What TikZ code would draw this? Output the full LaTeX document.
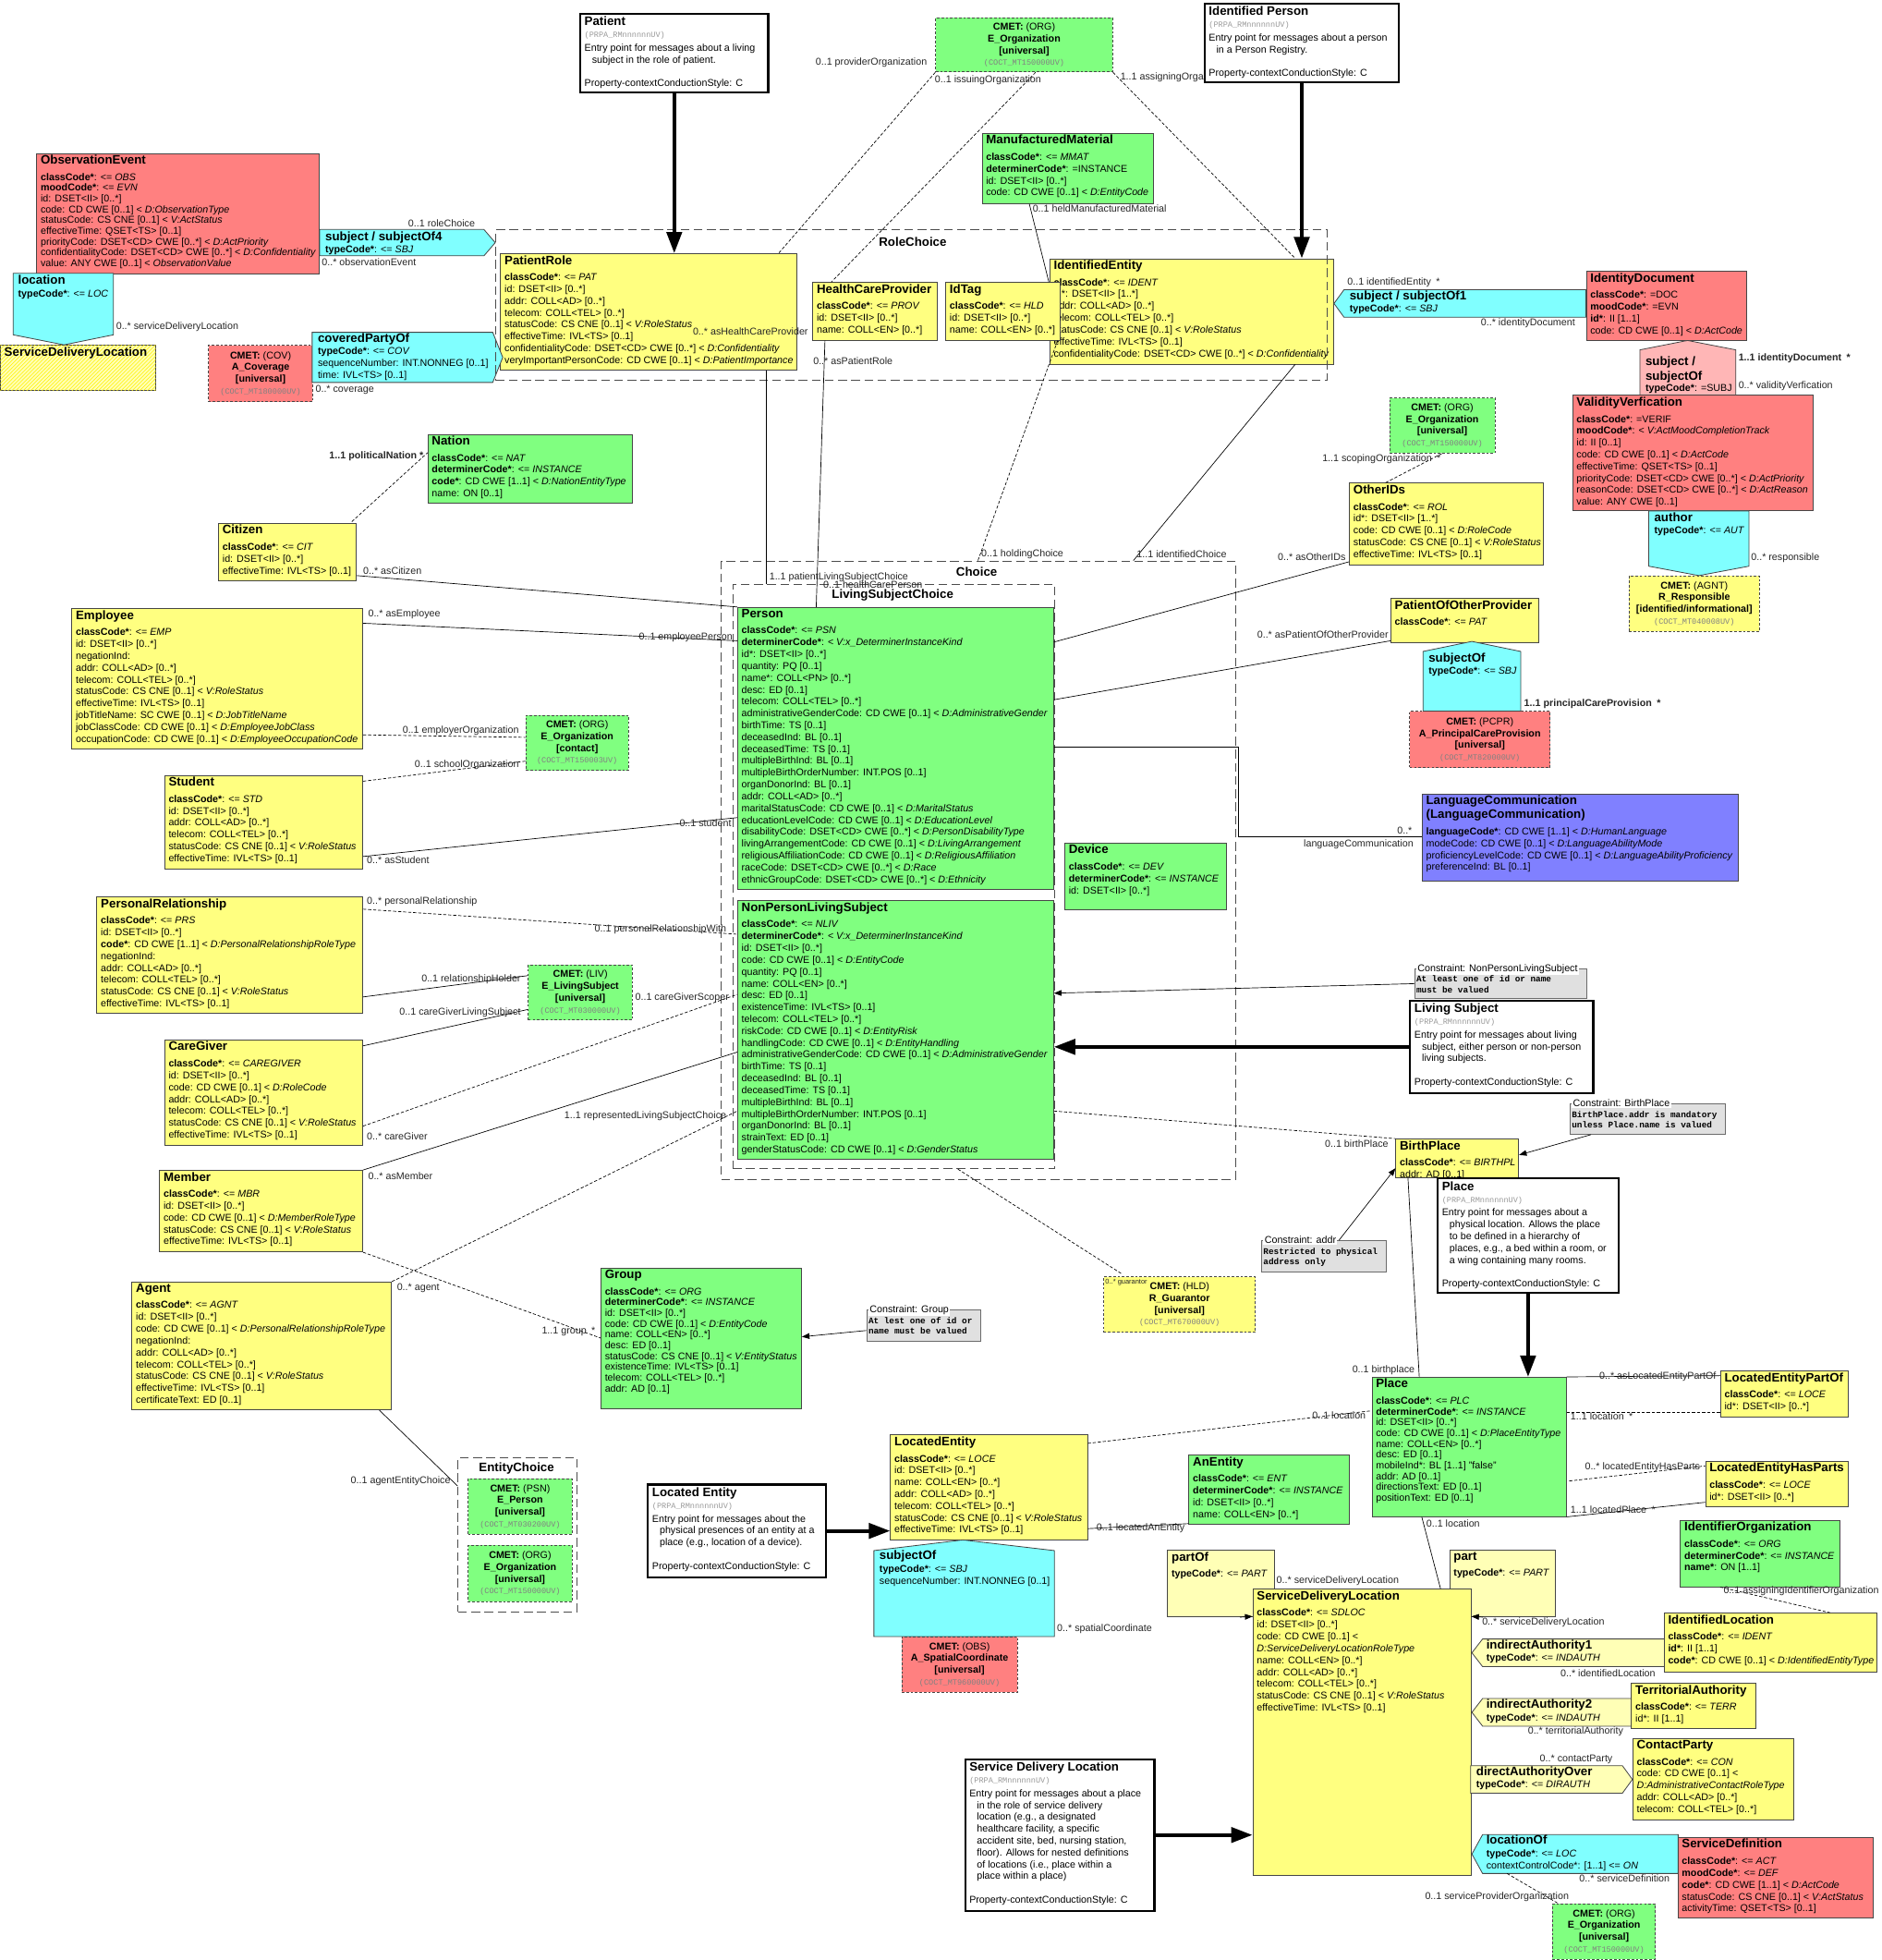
\documentclass[tikz,border=0pt]{standalone}
\usepackage{fontspec}
\setmainfont{Liberation Sans}
\setmonofont{Liberation Mono}
\usepackage{tikz}
\usetikzlibrary{calc,arrows.meta,patterns}
\definecolor{rimyellow}{RGB}{255,255,128}
\definecolor{rimgreen}{RGB}{128,255,128}
\definecolor{rimred}{RGB}{255,128,128}
\definecolor{rimcyan}{RGB}{128,255,255}
\definecolor{rimblue}{RGB}{128,128,255}
\definecolor{rimpink}{RGB}{255,182,182}
\definecolor{rimpale}{RGB}{255,255,182}
\definecolor{rimgrey}{RGB}{224,224,224}
\definecolor{rimline}{RGB}{70,70,70}

\newcommand{\pitch}{9.45pt}
\newcommand{\boxtitle}[1]{{\fontsize{9.8}{9.8}\selectfont\bfseries #1}}
\newcommand{\cmetid}[1]{{\fontsize{6.3}{7}\selectfont\ttfamily\color{black!50}#1}}
\newcommand{\noteid}{{\fontsize{6.3}{7}\selectfont\ttfamily\color{black!40}(PRPA\_RMnnnnnnUV)}}
% class box: name, fill, corner, width, height, title, attributes
\newcommand{\classbox}[7]{%
  \node[class box,#2,minimum width=#4pt,minimum height=#5pt] (#1) at (#3) {};
  \node[class text] (#1-t) at (#1.north west) {\boxtitle{#6}\\[\dimexpr13pt-\pitch\relax]#7};}
% cmet box: name, fill, corner, width, height, text
\newcommand{\cmetbox}[6]{%
  \node[cmet box,#2,minimum width=#4pt,minimum height=#5pt] (#1) at (#3) {#6};}
% constraint: name, corner, width, height, label, text
\newcommand{\constraintbox}[6]{%
  \node[constraint box,minimum width=#3pt,minimum height=#4pt] (#1) at (#2) {};
  \node[constraint label] (#1-l) at ($(#1.north west)+(1.5,2.5)$) {#5};
  \node[constraint text] (#1-t) at ($(#1.north west)+(0,5)$) {#6};}
% entry point note: name, corner, width, height, title, text
\newcommand{\notebox}[6]{%
  \node[note box,minimum width=#3pt,minimum height=#4pt] (#1) at (#2) {};
  \node[note text] (#1-t) at (#1.north west) {\boxtitle{#5}\\\noteid\\[1.5pt]#6};}

\begin{document}
\begin{tikzpicture}[x=1pt,y=-1pt]
\tikzstyle{class box}=[draw=rimline,line width=0.6pt,anchor=north west,inner sep=0pt]
\tikzstyle{class text}=[anchor=north west,align=left,inner xsep=3.3pt,inner ysep=1.5pt,font=\fontsize{7.9}{\pitch}\selectfont]
\tikzstyle{cmet box}=[draw=rimline,line width=0.7pt,dash pattern=on 2pt off 1.5pt,anchor=north west,align=center,inner sep=1pt,font=\fontsize{7.9}{9.4}\selectfont]
\tikzstyle{note box}=[draw=black,line width=1.6pt,fill=white,anchor=north west,inner sep=0pt]
\tikzstyle{note text}=[anchor=north west,align=left,inner xsep=4pt,inner ysep=3pt,font=\fontsize{7.9}{9.45}\selectfont]
\tikzstyle{constraint box}=[draw=rimline!80,line width=0.8pt,fill=rimgrey,anchor=north west,inner sep=0pt]
\tikzstyle{constraint label}=[anchor=base west,fill=white,inner sep=1pt,font=\fontsize{7.9}{9}\selectfont]
\tikzstyle{constraint text}=[anchor=north west,align=left,inner xsep=1.5pt,inner ysep=1pt,font=\fontsize{6.9}{8.3}\selectfont\ttfamily\bfseries]
\tikzstyle{container}=[draw=black!70,line width=0.8pt,dash pattern=on 7pt off 3.5pt,anchor=north west,inner sep=0pt]
\tikzstyle{container title}=[font=\fontsize{9.8}{10}\selectfont\bfseries,inner sep=0.5pt]
\tikzstyle{assoc}=[draw=rimline,line width=0.6pt]
\tikzstyle{rel}=[line width=0.5pt]
\tikzstyle{rel dashed}=[line width=0.5pt,dash pattern=on 2.5pt off 1.5pt]
\tikzstyle{entry arrow}=[line width=3pt,-{Triangle[length=17pt,width=12pt]}]
\tikzstyle{small arrow}=[line width=0.5pt,-{Triangle[length=6pt,width=4.5pt]}]
\tikzstyle{mult}=[font=\fontsize{7.9}{9}\selectfont,inner sep=0.5pt,text=black!85]

\fill[white] (0,0) rectangle (1500.4,1563);
\path[use as bounding box] (0,0) rectangle (1500.4,1563);

% observation corner
\renewcommand{\pitch}{8.6pt}
\classbox{obsEvent}{fill=rimred}{29,122}{225}{96}{ObservationEvent}{%
\textbf{classCode*}: <= \textit{OBS}\\
\textbf{moodCode*}: <= \textit{EVN}\\
id: DSET<II> [0..*]\\
code: CD CWE [0..1] < \textit{D:ObservationType}\\
statusCode: CS CNE [0..1] < \textit{V:ActStatus}\\
effectiveTime: QSET<TS> [0..1]\\
priorityCode: DSET<CD> CWE [0..*] < \textit{D:ActPriority}\\
confidentialityCode: DSET<CD> CWE [0..*] < \textit{D:Confidentiality}\\
value: ANY CWE [0..1] < \textit{ObservationValue}}
\renewcommand{\pitch}{9.45pt}
\node[class box,fill=rimpale,postaction={pattern=north east lines,pattern color=yellow!90!orange},minimum width=124pt,minimum height=36pt] (sdlRef) at (0,275) {};
\node[class text] (sdlRef-t) at (sdlRef.north west) {\boxtitle{ServiceDeliveryLocation}};
\cmetbox{cmCov}{fill=rimred}{166,275}{83}{45}{\textbf{CMET:} (COV)\\\textbf{A\_Coverage}\\\textbf{[universal]}\\\cmetid{(COCT\_MT180000UV)}}

% role choice
\classbox{patRole}{fill=rimyellow}{399,202}{236}{93}{PatientRole}{%
\textbf{classCode*}: <= \textit{PAT}\\
id: DSET<II> [0..*]\\
addr: COLL<AD> [0..*]\\
telecom: COLL<TEL> [0..*]\\
statusCode: CS CNE [0..1] < \textit{V:RoleStatus}\\
effectiveTime: IVL<TS> [0..1]\\
confidentialityCode: DSET<CD> CWE [0..*] < \textit{D:Confidentiality}\\
veryImportantPersonCode: CD CWE [0..1] < \textit{D:PatientImportance}}
\classbox{hcp}{fill=rimyellow}{648,225}{99}{46}{HealthCareProvider}{%
\textbf{classCode*}: <= \textit{PROV}\\
id: DSET<II> [0..*]\\
name: COLL<EN> [0..*]}
\classbox{idEnt}{fill=rimyellow}{837,206}{226}{84}{IdentifiedEntity}{%
\textbf{classCode*}: <= \textit{IDENT}\\
id*: DSET<II> [1..*]\\
addr: COLL<AD> [0..*]\\
telecom: COLL<TEL> [0..*]\\
statusCode: CS CNE [0..1] < \textit{V:RoleStatus}\\
effectiveTime: IVL<TS> [0..1]\\
confidentialityCode: DSET<CD> CWE [0..*] < \textit{D:Confidentiality}}
\classbox{idTag}{fill=rimyellow}{754,225}{91}{46}{IdTag}{%
\textbf{classCode*}: <= \textit{HLD}\\
id: DSET<II> [0..*]\\
name: COLL<EN> [0..*]}
\classbox{mmat}{fill=rimgreen}{783,106}{137}{56}{ManufacturedMaterial}{%
\textbf{classCode*}: <= \textit{MMAT}\\
\textbf{determinerCode*}: =INSTANCE\\
id: DSET<II> [0..*]\\
code: CD CWE [0..1] < \textit{D:EntityCode}}
\cmetbox{cmOrgTop}{fill=rimgreen}{746,14}{141}{43}{\textbf{CMET:} (ORG)\\\textbf{E\_Organization}\\\textbf{[universal]}\\\cmetid{(COCT\_MT150000UV)}}

% identity document side
\classbox{idDoc}{fill=rimred}{1265,216}{128}{55}{IdentityDocument}{%
\textbf{classCode*}: =DOC\\
\textbf{moodCode*}: =EVN\\
\textbf{id*}: II [1..1]\\
code: CD CWE [0..1] < \textit{D:ActCode}}
\classbox{valid}{fill=rimred}{1254,315}{192}{92}{ValidityVerfication}{%
\textbf{classCode*}: =VERIF\\
\textbf{moodCode*}: < \textit{V:ActMoodCompletionTrack}\\
id: II [0..1]\\
code: CD CWE [0..1] < \textit{D:ActCode}\\
effectiveTime: QSET<TS> [0..1]\\
priorityCode: DSET<CD> CWE [0..*] < \textit{D:ActPriority}\\
reasonCode: DSET<CD> CWE [0..*] < \textit{D:ActReason}\\
value: ANY CWE [0..1]}
\cmetbox{cmAgnt}{fill=rimyellow}{1299,459}{104}{44}{\textbf{CMET:} (AGNT)\\\textbf{R\_Responsible}\\\textbf{[identified/informational]}\\\cmetid{(COCT\_MT040008UV)}}
\cmetbox{cmOrgScope}{fill=rimgreen}{1108,317}{84}{44}{\textbf{CMET:} (ORG)\\\textbf{E\_Organization}\\\textbf{[universal]}\\\cmetid{(COCT\_MT150000UV)}}
\classbox{otherIds}{fill=rimyellow}{1076,385}{155}{65}{OtherIDs}{%
\textbf{classCode*}: <= \textit{ROL}\\
id*: DSET<II> [1..*]\\
code: CD CWE [0..1] < \textit{D:RoleCode}\\
statusCode: CS CNE [0..1] < \textit{V:RoleStatus}\\
effectiveTime: IVL<TS> [0..1]}
\classbox{patOther}{fill=rimyellow}{1109,477}{118}{35}{PatientOfOtherProvider}{%
\textbf{classCode*}: <= \textit{PAT}}
\cmetbox{cmPcpr}{fill=rimred}{1124,567}{112}{45}{\textbf{CMET:} (PCPR)\\\textbf{A\_PrincipalCareProvision}\\\textbf{[universal]}\\\cmetid{(COCT\_MT820000UV)}}
\node[class box,fill=rimblue,minimum width=252pt,minimum height=69pt] (langComm) at (1134,633) {};
\node[class text] (langComm-t) at (langComm.north west) {\boxtitle{LanguageCommunication}\\[1.5pt]\boxtitle{(LanguageCommunication)}\\[3.5pt]%
\textbf{languageCode*}: CD CWE [1..1] < \textit{D:HumanLanguage}\\
modeCode: CD CWE [0..1] < \textit{D:LanguageAbilityMode}\\
proficiencyLevelCode: CD CWE [0..1] < \textit{D:LanguageAbilityProficiency}\\
preferenceInd: BL [0..1]};

% left roles
\classbox{nation}{fill=rimgreen}{341,346}{163}{55}{Nation}{%
\textbf{classCode*}: <= \textit{NAT}\\
\textbf{determinerCode*}: <= \textit{INSTANCE}\\
\textbf{code*}: CD CWE [1..1] < \textit{D:NationEntityType}\\
name: ON [0..1]}
\classbox{citizen}{fill=rimyellow}{174,417}{110}{46}{Citizen}{%
\textbf{classCode*}: <= \textit{CIT}\\
id: DSET<II> [0..*]\\
effectiveTime: IVL<TS> [0..1]}
\classbox{employee}{fill=rimyellow}{57,485}{232}{112}{Employee}{%
\textbf{classCode*}: <= \textit{EMP}\\
id: DSET<II> [0..*]\\
negationInd:\\
addr: COLL<AD> [0..*]\\
telecom: COLL<TEL> [0..*]\\
statusCode: CS CNE [0..1] < \textit{V:RoleStatus}\\
effectiveTime: IVL<TS> [0..1]\\
jobTitleName: SC CWE [0..1] < \textit{D:JobTitleName}\\
jobClassCode: CD CWE [0..1] < \textit{D:EmployeeJobClass}\\
occupationCode: CD CWE [0..1] < \textit{D:EmployeeOccupationCode}}
\cmetbox{cmOrgContact}{fill=rimgreen}{419,570}{82}{44}{\textbf{CMET:} (ORG)\\\textbf{E\_Organization}\\\textbf{[contact]}\\\cmetid{(COCT\_MT150003UV)}}
\classbox{student}{fill=rimyellow}{131,618}{158}{75}{Student}{%
\textbf{classCode*}: <= \textit{STD}\\
id: DSET<II> [0..*]\\
addr: COLL<AD> [0..*]\\
telecom: COLL<TEL> [0..*]\\
statusCode: CS CNE [0..1] < \textit{V:RoleStatus}\\
effectiveTime: IVL<TS> [0..1]}
\classbox{persRel}{fill=rimyellow}{77,715}{212}{93}{PersonalRelationship}{%
\textbf{classCode*}: <= \textit{PRS}\\
id: DSET<II> [0..*]\\
\textbf{code*}: CD CWE [1..1] < \textit{D:PersonalRelationshipRoleType}\\
negationInd:\\
addr: COLL<AD> [0..*]\\
telecom: COLL<TEL> [0..*]\\
statusCode: CS CNE [0..1] < \textit{V:RoleStatus}\\
effectiveTime: IVL<TS> [0..1]}
\cmetbox{cmLiv}{fill=rimgreen}{421,769}{83}{44}{\textbf{CMET:} (LIV)\\\textbf{E\_LivingSubject}\\\textbf{[universal]}\\\cmetid{(COCT\_MT030000UV)}}
\classbox{careGiver}{fill=rimyellow}{131,829}{158}{84}{CareGiver}{%
\textbf{classCode*}: <= \textit{CAREGIVER}\\
id: DSET<II> [0..*]\\
code: CD CWE [0..1] < \textit{D:RoleCode}\\
addr: COLL<AD> [0..*]\\
telecom: COLL<TEL> [0..*]\\
statusCode: CS CNE [0..1] < \textit{V:RoleStatus}\\
effectiveTime: IVL<TS> [0..1]}
\classbox{member}{fill=rimyellow}{127,933}{162}{65}{Member}{%
\textbf{classCode*}: <= \textit{MBR}\\
id: DSET<II> [0..*]\\
code: CD CWE [0..1] < \textit{D:MemberRoleType}\\
statusCode: CS CNE [0..1] < \textit{V:RoleStatus}\\
effectiveTime: IVL<TS> [0..1]}
\classbox{agent}{fill=rimyellow}{105,1022}{207}{102}{Agent}{%
\textbf{classCode*}: <= \textit{AGNT}\\
id: DSET<II> [0..*]\\
code: CD CWE [0..1] < \textit{D:PersonalRelationshipRoleType}\\
negationInd:\\
addr: COLL<AD> [0..*]\\
telecom: COLL<TEL> [0..*]\\
statusCode: CS CNE [0..1] < \textit{V:RoleStatus}\\
effectiveTime: IVL<TS> [0..1]\\
certificateText: ED [0..1]}
\renewcommand{\pitch}{8.6pt}
\classbox{group}{fill=rimgreen}{479,1011}{160}{112}{Group}{%
\textbf{classCode*}: <= \textit{ORG}\\
\textbf{determinerCode*}: <= \textit{INSTANCE}\\
id: DSET<II> [0..*]\\
code: CD CWE [0..1] < \textit{D:EntityCode}\\
name: COLL<EN> [0..*]\\
desc: ED [0..1]\\
statusCode: CS CNE [0..1] < \textit{V:EntityStatus}\\
existenceTime: IVL<TS> [0..1]\\
telecom: COLL<TEL> [0..*]\\
addr: AD [0..1]}
\renewcommand{\pitch}{9.45pt}
\constraintbox{cnGroup}{691,1044}{91}{25}{Constraint: Group}{At lest one of id or\\name must be valued}
\cmetbox{cmHld}{fill=rimyellow}{880,1018}{121}{44}{\textbf{CMET:} (HLD)\\\textbf{R\_Guarantor}\\\textbf{[universal]}\\\cmetid{(COCT\_MT670000UV)}}

% living subjects
\classbox{person}{fill=rimgreen}{588,484}{252}{225}{Person}{%
\textbf{classCode*}: <= \textit{PSN}\\
\textbf{determinerCode*}: < \textit{V:x\_DeterminerInstanceKind}\\
id*: DSET<II> [0..*]\\
quantity: PQ [0..1]\\
name*: COLL<PN> [0..*]\\
desc: ED [0..1]\\
telecom: COLL<TEL> [0..*]\\
administrativeGenderCode: CD CWE [0..1] < \textit{D:AdministrativeGender}\\
birthTime: TS [0..1]\\
deceasedInd: BL [0..1]\\
deceasedTime: TS [0..1]\\
multipleBirthInd: BL [0..1]\\
multipleBirthOrderNumber: INT.POS [0..1]\\
organDonorInd: BL [0..1]\\
addr: COLL<AD> [0..*]\\
maritalStatusCode: CD CWE [0..1] < \textit{D:MaritalStatus}\\
educationLevelCode: CD CWE [0..1] < \textit{D:EducationLevel}\\
disabilityCode: DSET<CD> CWE [0..*] < \textit{D:PersonDisabilityType}\\
livingArrangementCode: CD CWE [0..1] < \textit{D:LivingArrangement}\\
religiousAffiliationCode: CD CWE [0..1] < \textit{D:ReligiousAffiliation}\\
raceCode: DSET<CD> CWE [0..*] < \textit{D:Race}\\
ethnicGroupCode: DSET<CD> CWE [0..*] < \textit{D:Ethnicity}}
\classbox{nonPerson}{fill=rimgreen}{588,718}{252}{206}{NonPersonLivingSubject}{%
\textbf{classCode*}: <= \textit{NLIV}\\
\textbf{determinerCode*}: < \textit{V:x\_DeterminerInstanceKind}\\
id: DSET<II> [0..*]\\
code: CD CWE [0..1] < \textit{D:EntityCode}\\
quantity: PQ [0..1]\\
name: COLL<EN> [0..*]\\
desc: ED [0..1]\\
existenceTime: IVL<TS> [0..1]\\
telecom: COLL<TEL> [0..*]\\
riskCode: CD CWE [0..1] < \textit{D:EntityRisk}\\
handlingCode: CD CWE [0..1] < \textit{D:EntityHandling}\\
administrativeGenderCode: CD CWE [0..1] < \textit{D:AdministrativeGender}\\
birthTime: TS [0..1]\\
deceasedInd: BL [0..1]\\
deceasedTime: TS [0..1]\\
multipleBirthInd: BL [0..1]\\
multipleBirthOrderNumber: INT.POS [0..1]\\
organDonorInd: BL [0..1]\\
strainText: ED [0..1]\\
genderStatusCode: CD CWE [0..1] < \textit{D:GenderStatus}}
\classbox{device}{fill=rimgreen}{849,672}{129}{53}{Device}{%
\textbf{classCode*}: <= \textit{DEV}\\
\textbf{determinerCode*}: <= \textit{INSTANCE}\\
id: DSET<II> [0..*]}
\constraintbox{cnNPLS}{1128,772}{137}{24}{Constraint: NonPersonLivingSubject}{At least one of id or name\\must be valued}

% places
\constraintbox{cnBirth}{1252,880}{124}{24}{Constraint: BirthPlace}{BirthPlace.addr is mandatory\\unless Place.name is valued}
\classbox{birthPl}{fill=rimyellow}{1113,908}{98}{31}{BirthPlace}{%
\textbf{classCode*}: <= \textit{BIRTHPL}\\
addr: AD [0..1]}
\constraintbox{cnAddr}{1006,989}{99}{25}{Constraint: addr}{Restricted to physical\\address only}
\renewcommand{\pitch}{8.6pt}
\classbox{place}{fill=rimgreen}{1094,1098}{155}{111}{Place}{%
\textbf{classCode*}: <= \textit{PLC}\\
\textbf{determinerCode*}: <= \textit{INSTANCE}\\
id: DSET<II> [0..*]\\
code: CD CWE [0..1] < \textit{D:PlaceEntityType}\\
name: COLL<EN> [0..*]\\
desc: ED [0..1]\\
mobileInd*: BL [1..1] "false"\\
addr: AD [0..1]\\
directionsText: ED [0..1]\\
positionText: ED [0..1]}
\renewcommand{\pitch}{9.45pt}
\classbox{lePartOf}{fill=rimyellow}{1372,1093}{102}{37}{LocatedEntityPartOf}{%
\textbf{classCode*}: <= \textit{LOCE}\\
id*: DSET<II> [0..*]}
\classbox{leHasParts}{fill=rimyellow}{1360,1165}{114}{36}{LocatedEntityHasParts}{%
\textbf{classCode*}: <= \textit{LOCE}\\
id*: DSET<II> [0..*]}
\classbox{locEnt}{fill=rimyellow}{710,1144}{157}{84}{LocatedEntity}{%
\textbf{classCode*}: <= \textit{LOCE}\\
id: DSET<II> [0..*]\\
name: COLL<EN> [0..*]\\
addr: COLL<AD> [0..*]\\
telecom: COLL<TEL> [0..*]\\
statusCode: CS CNE [0..1] < \textit{V:RoleStatus}\\
effectiveTime: IVL<TS> [0..1]}
\classbox{anEntity}{fill=rimgreen}{948,1160}{128}{55}{AnEntity}{%
\textbf{classCode*}: <= \textit{ENT}\\
\textbf{determinerCode*}: <= \textit{INSTANCE}\\
id: DSET<II> [0..*]\\
name: COLL<EN> [0..*]}
\cmetbox{cmPsn}{fill=rimgreen}{373,1179}{83}{44}{\textbf{CMET:} (PSN)\\\textbf{E\_Person}\\\textbf{[universal]}\\\cmetid{(COCT\_MT030200UV)}}
\cmetbox{cmOrgEnt}{fill=rimgreen}{373,1232}{83}{45}{\textbf{CMET:} (ORG)\\\textbf{E\_Organization}\\\textbf{[universal]}\\\cmetid{(COCT\_MT150000UV)}}
\cmetbox{cmObs}{fill=rimred}{719,1305}{92}{44}{\textbf{CMET:} (OBS)\\\textbf{A\_SpatialCoordinate}\\\textbf{[universal]}\\\cmetid{(COCT\_MT960000UV)}}

% service delivery location
\classbox{idOrg}{fill=rimgreen}{1340,1212}{127}{53}{IdentifierOrganization}{%
\textbf{classCode*}: <= \textit{ORG}\\
\textbf{determinerCode*}: <= \textit{INSTANCE}\\
\textbf{name*}: ON [1..1]}
\classbox{partOf}{fill=rimpale}{931,1236}{85}{53}{partOf}{%
\textbf{typeCode*}: <= \textit{PART}}
\classbox{partBox}{fill=rimpale}{1156,1236}{84}{53}{part}{%
\textbf{typeCode*}: <= \textit{PART}}
\classbox{sdl}{fill=rimyellow}{999,1267}{174}{228}{ServiceDeliveryLocation}{%
\textbf{classCode*}: <= \textit{SDLOC}\\
id: DSET<II> [0..*]\\
code: CD CWE [0..1] <\\
\textit{D:ServiceDeliveryLocationRoleType}\\
name: COLL<EN> [0..*]\\
addr: COLL<AD> [0..*]\\
telecom: COLL<TEL> [0..*]\\
statusCode: CS CNE [0..1] < \textit{V:RoleStatus}\\
effectiveTime: IVL<TS> [0..1]}
\classbox{idLoc}{fill=rimyellow}{1327,1286}{170}{47}{IdentifiedLocation}{%
\textbf{classCode*}: <= \textit{IDENT}\\
\textbf{id*}: II [1..1]\\
\textbf{code*}: CD CWE [0..1] < \textit{D:IdentifiedEntityType}}
\classbox{terrAuth}{fill=rimyellow}{1301,1342}{99}{36}{TerritorialAuthority}{%
\textbf{classCode*}: <= \textit{TERR}\\
id*: II [1..1]}
\classbox{contact}{fill=rimyellow}{1302,1386}{128}{65}{ContactParty}{%
\textbf{classCode*}: <= \textit{CON}\\
code: CD CWE [0..1] <\\
\textit{D:AdministrativeContactRoleType}\\
addr: COLL<AD> [0..*]\\
telecom: COLL<TEL> [0..*]}
\classbox{serviceDef}{fill=rimred}{1338,1465}{156}{64}{ServiceDefinition}{%
\textbf{classCode*}: <= \textit{ACT}\\
\textbf{moodCode*}: <= \textit{DEF}\\
\textbf{code*}: CD CWE [1..1] < \textit{D:ActCode}\\
statusCode: CS CNE [0..1] < \textit{V:ActStatus}\\
activityTime: QSET<TS> [0..1]}
\cmetbox{cmOrgBot}{fill=rimgreen}{1238,1518}{82}{44}{\textbf{CMET:} (ORG)\\\textbf{E\_Organization}\\\textbf{[universal]}\\\cmetid{(COCT\_MT150000UV)}}

% association classes
\filldraw[assoc,fill=rimcyan] (255,183) -- (386,183) -- (395,193.5) -- (386,204) -- (255,204) -- cycle;
\node[class text] (subjOf4) at (256,183) {\boxtitle{subject / subjectOf4}\\[0.5pt]\textbf{typeCode*}: <= \textit{SBJ}};
\filldraw[assoc,fill=rimcyan] (249,265) -- (393,265) -- (401,285) -- (393,305) -- (249,305) -- cycle;
\node[class text] (coveredPartyOf) at (250,264) {\boxtitle{coveredPartyOf}\\[0.5pt]\textbf{typeCode*}: <= \textit{COV}\\sequenceNumber: INT.NONNEG [0..1]\\time: IVL<TS> [0..1]};
\filldraw[assoc,fill=rimcyan] (10.5,218) -- (90.5,218) -- (90.5,267) -- (51,275) -- (10.5,267) -- cycle;
\node[class text] (locAssoc) at (11,218) {\boxtitle{location}\\[0.5pt]\textbf{typeCode*}: <= \textit{LOC}};
\filldraw[assoc,fill=rimcyan] (1072,231) -- (1265,231) -- (1265,253) -- (1072,253) -- (1064,242) -- cycle;
\node[class text] (subjOf1) at (1073,230) {\boxtitle{subject / subjectOf1}\\[0.5pt]\textbf{typeCode*}: <= \textit{SBJ}};
\filldraw[assoc,fill=rimpink] (1308,315) -- (1308,279) -- (1346,271.5) -- (1384.5,279) -- (1384.5,315) -- cycle;
\node[class text] (subjPink) at (1309,283) {\boxtitle{subject /}\\[2pt]\boxtitle{subjectOf}\\[-0.8pt]\textbf{typeCode*}: =SUBJ};
\filldraw[assoc,fill=rimcyan] (1315,407.5) -- (1395,407.5) -- (1395,451.5) -- (1355,459) -- (1315,451.5) -- cycle;
\node[class text] (author) at (1316,407) {\boxtitle{author}\\[0.5pt]\textbf{typeCode*}: <= \textit{AUT}};
\filldraw[assoc,fill=rimcyan] (1135,567) -- (1135,519.5) -- (1174,511.5) -- (1213,519.5) -- (1213,567) -- cycle;
\node[class text] (subjOfPcpr) at (1136,519) {\boxtitle{subjectOf}\\[0.5pt]\textbf{typeCode*}: <= \textit{SBJ}};
\filldraw[assoc,fill=rimcyan] (697,1305) -- (697,1236.5) -- (768,1228) -- (841,1236.5) -- (841,1305) -- cycle;
\node[class text] (subjOfLoc) at (698,1235) {\boxtitle{subjectOf}\\[0.5pt]\textbf{typeCode*}: <= \textit{SBJ}\\sequenceNumber: INT.NONNEG [0..1]};
\filldraw[assoc,fill=rimpale] (1182.5,1307) -- (1327.5,1307) -- (1327.5,1329) -- (1182.5,1329) -- (1174,1318) -- cycle;
\node[class text] (indAuth1) at (1182,1306) {\boxtitle{indirectAuthority1}\\[0.5pt]\textbf{typeCode*}: <= \textit{INDAUTH}};
\filldraw[assoc,fill=rimpale] (1182.5,1354.5) -- (1301,1354.5) -- (1301,1376.5) -- (1182.5,1376.5) -- (1174,1365.5) -- cycle;
\node[class text] (indAuth2) at (1182,1353.5) {\boxtitle{indirectAuthority2}\\[0.5pt]\textbf{typeCode*}: <= \textit{INDAUTH}};
\filldraw[assoc,fill=rimpale] (1173,1408) -- (1294,1408) -- (1302,1419) -- (1294,1430) -- (1173,1430) -- cycle;
\node[class text] (dirAuth) at (1174,1407) {\boxtitle{directAuthorityOver}\\[0.5pt]\textbf{typeCode*}: <= \textit{DIRAUTH}};
\filldraw[assoc,fill=rimcyan] (1182.5,1463) -- (1338.5,1463) -- (1338.5,1494) -- (1182.5,1494) -- (1174,1478.5) -- cycle;
\node[class text] (locationOf) at (1182,1462) {\boxtitle{locationOf}\\[0.5pt]\textbf{typeCode*}: <= \textit{LOC}\\contextControlCode*: [1..1] <= \textit{ON}};

% choice boxes
\node[container,minimum width=663pt,minimum height=120pt] (roleChoice) at (395,183) {};
\node[container title] (roleChoice-t) at (728,193) {RoleChoice};
\node[container,minimum width=410pt,minimum height=493pt] (choice) at (575,447) {};
\node[container title] (choice-t) at (779,456) {Choice};
\node[container,minimum width=257pt,minimum height=465.5pt] (lsChoice) at (584,466) {};
\node[container title] (lsChoice-t) at (712,475) {LivingSubjectChoice};
\node[container,minimum width=95pt,minimum height=123pt] (entityChoice) at (365,1162) {};
\node[container title] (entityChoice-t) at (412,1171) {EntityChoice};

% associations
\draw[rel dashed] (cmOrgTop.south west) -- ($(patRole.north west)+(222,0)$);
\draw[rel dashed] ($(cmOrgTop.south west)+(80,0)$) -- ($(hcp.north west)+(15,0)$);
\draw[rel dashed] (cmOrgTop.south east) -- ($(idEnt.north west)+(196,0)$);
\draw[rel] ($(mmat.south west)+(38,0)$) -- ($(idTag.north east)+(-9,0)$);
\draw[rel] ($(patRole.south west)+(212,0)$) -- ($(lsChoice.north west)+(27,0)$);
\draw[rel] ($(hcp.south west)+(10,0)$) -- ($(person.north west)+(63,0)$);
\draw[rel dashed] ($(idTag.south east)+(-2,0)$) -- ($(choice.north west)+(205,0)$);
\draw[rel] ($(idEnt.south west)+(196,0)$) -- ($(choice.north west)+(329,0)$);
\draw[rel] ($(citizen.north east)+(0,42)$) -- (person.north west);
\draw[rel dashed] ($(citizen.north east)+(-4,-1)$) -- ($(nation.north west)+(0,15)$);
\draw[rel] ($(employee.north east)+(0,12)$) -- ($(person.north west)+(0,27)$);
\draw[rel dashed] ($(employee.north east)+(0,101)$) -- ($(cmOrgContact.north west)+(0,18)$);
\draw[rel dashed] ($(student.north east)+(0,5)$) -- ($(cmOrgContact.north west)+(0,37)$);
\draw[rel] ($(student.north east)+(0,65)$) -- ($(person.north west)+(0,168)$);
\draw[rel dashed] ($(persRel.north east)+(0,10)$) -- ($(nonPerson.north west)+(0,27)$);
\draw[rel] ($(persRel.north east)+(0,80)$) -- ($(cmLiv.north west)+(0,9)$);
\draw[rel] ($(careGiver.north east)+(0,5)$) -- ($(cmLiv.north west)+(0,36)$);
\draw[rel dashed] ($(careGiver.north east)+(0,69)$) -- ($(nonPerson.north west)+(0,75)$);
\draw[rel] (member.north east) -- ($(nonPerson.north west)+(0,121)$);
\draw[rel dashed] (agent.north east) -- ($(nonPerson.north west)+(0,168)$);
\draw[rel dashed] (member.south east) -- ($(group.north west)+(0,56)$);
\draw[rel] ($(agent.south east)+(-10,0)$) -- ($(entityChoice.north west)+(0,23)$);
\draw[rel] ($(person.north east)+(0,28)$) -- ($(otherIds.north west)+(0,63)$);
\draw[rel] ($(person.north east)+(0,74)$) -- ($(patOther.north west)+(0,34)$);
\draw[rel] ($(person.north east)+(0,112)$) -- ++(147,0) |- ($(langComm.north west)+(0,34)$);
\draw[rel dashed] ($(cmOrgScope.south west)+(42,0)$) -- ($(otherIds.north west)+(29,0)$);
\draw[rel dashed] ($(nonPerson.north east)+(0,168)$) -- (birthPl.north west);
\draw[rel dashed] ($(lsChoice.south west)+(180,0)$) -- ($(cmHld.north west)+(15,-2)$);
\draw[rel] ($(birthPl.south west)+(10,0)$) -- ($(place.north west)+(38,0)$);
\draw[rel] (place.north east) -- ($(lePartOf.north west)+(0,4)$);
\draw[rel dashed] ($(lePartOf.north west)+(0,33)$) -- ($(place.north east)+(0,28)$);
\draw[rel dashed] ($(place.north east)+(2,83)$) -- ($(leHasParts.north west)+(0,4)$);
\draw[rel] (place.south east) -- ($(leHasParts.north west)+(0,33)$);
\draw[rel dashed] ($(locEnt.north east)+(0,7)$) -- ($(place.north west)+(0,27)$);
\draw[rel] ($(locEnt.north east)+(0,75)$) -- ($(anEntity.north west)+(0,55)$);
\draw[rel] ($(place.south west)+(40,0)$) -- ($(sdl.north west)+(150,0)$);
\draw[rel dashed] ($(idOrg.south west)+(32,0)$) -- ($(idLoc.north east)+(-38,0)$);
\draw[rel dashed] ($(locationOf.north west)+(20,32)$) -- ($(cmOrgBot.north west)+(5,0)$);
\draw[small arrow] ($(partOf.south west)+(58,0)$) -- ($(sdl.north west)+(0,22)$);
\draw[small arrow] ($(partBox.south west)+(27,0)$) -- ($(sdl.north east)+(0,22)$);
% constraints
\draw[small arrow] (cnNPLS.west) -- ($(nonPerson.north east)+(0,74)$);
\draw[small arrow] ($(cnBirth.south west)+(17,0)$) -- ($(birthPl.north east)+(0,13)$);
\draw[small arrow] ($(cnAddr.north west)+(62,0)$) -- ($(birthPl.south west)+(0,-8)$);
\draw[small arrow] ($(cnGroup.north west)+(0,17)$) -- ($(group.north east)+(0,55)$);

% multiplicities
\node[mult,anchor=east] (m-providerOrg) at (740,50) {0..1 providerOrganization};
\node[mult,anchor=west] (m-issuingOrg) at (745,64) {0..1 issuingOrganization};
\node[mult,anchor=west] (m-assigningOrg) at (893,62) {1..1 assigningOrganization};
\node[mult,anchor=west] (m-heldMat) at (823,166) {0..1 heldManufacturedMaterial};
\node[mult,anchor=west] (m-roleChoice) at (325,178) {0..1 roleChoice};
\node[mult,anchor=west] (m-obsEvent) at (256,209) {0..* observationEvent};
\node[mult,anchor=west] (m-sdl1) at (92,261) {0..* serviceDeliveryLocation};
\node[mult,anchor=west] (m-coverage) at (251,311) {0..* coverage};
\node[mult,anchor=west] (m-asHcp) at (552,264) {0..* asHealthCareProvider};
\node[mult,anchor=west] (m-asPatRole) at (648,288) {0..* asPatientRole};
\node[mult,anchor=west] (m-identEnt) at (1074,225.5) {0..1 identifiedEntity\enspace*};
\node[mult,anchor=east] (m-identDoc) at (1257,257.5) {0..* identityDocument};
\node[mult,anchor=west,font=\fontsize{7.9}{9}\selectfont\bfseries] (m-identDoc2) at (1386,285.5) {1..1 identityDocument\enspace*};
\node[mult,anchor=west] (m-validity) at (1386,308) {0..* validityVerfication};
\node[mult,anchor=west] (m-responsible) at (1396,445) {0..* responsible};
\node[mult,anchor=west] (m-scopingOrg) at (1054,366) {1..1 scopingOrganization\enspace*};
\node[mult,anchor=east] (m-asOtherIds) at (1074,444) {0..* asOtherIDs};
\node[mult,anchor=west] (m-holding) at (782,442) {0..1 holdingChoice};
\node[mult,anchor=west] (m-identChoice) at (906,442) {1..1 identifiedChoice};
\node[mult,anchor=west] (m-patLsc) at (613,460) {1..1 patientLivingSubjectChoice};
\node[mult,anchor=west] (m-hcPerson) at (656,466) {0..1 healthCarePerson};
\node[mult,anchor=west,font=\fontsize{7.9}{9}\selectfont\bfseries] (m-polNation) at (262,364) {1..1 politicalNation *};
\node[mult,anchor=west] (m-asCitizen) at (289,455) {0..* asCitizen};
\node[mult,anchor=west] (m-asEmployee) at (293,490) {0..* asEmployee};
\node[mult,anchor=east] (m-empPerson) at (585,508) {0..1 employeePerson};
\node[mult,anchor=east] (m-employerOrg) at (414.5,583) {0..1 employerOrganization};
\node[mult,anchor=east] (m-schoolOrg) at (414.5,610) {0..1 schoolOrganization};
\node[mult,anchor=west] (m-asStudent) at (292,686) {0..* asStudent};
\node[mult,anchor=east] (m-student) at (584,656) {0..1 student};
\node[mult,anchor=west] (m-persRel) at (292,719) {0..* personalRelationship};
\node[mult,anchor=east] (m-persRelWith) at (580,741) {0..1 personalRelationshipWith};
\node[mult,anchor=east] (m-relHolder) at (416,781) {0..1 relationshipHolder};
\node[mult,anchor=east] (m-cgLiving) at (416,807.5) {0..1 careGiverLivingSubject};
\node[mult,anchor=west] (m-cgScoper) at (506,796) {0..1 careGiverScoper};
\node[mult,anchor=west] (m-careGiver) at (292,906) {0..* careGiver};
\node[mult,anchor=east] (m-represented) at (580,890) {1..1 representedLivingSubjectChoice};
\node[mult,anchor=west] (m-asMember) at (293,938) {0..* asMember};
\node[mult,anchor=west] (m-agent) at (316,1027) {0..* agent};
\node[mult,anchor=east] (m-group) at (475.5,1062) {1..1 group\enspace*};
\node[mult,anchor=east] (m-agentEc) at (360,1181) {0..1 agentEntityChoice};
\node[mult,anchor=east] (m-asPoop) at (1108,506) {0..* asPatientOfOtherProvider};
\node[mult,anchor=west,font=\fontsize{7.9}{9}\selectfont\bfseries] (m-pcp) at (1215,561) {1..1 principalCareProvision\enspace*};
\node[mult,anchor=east] (m-lang1) at (1127,662) {0..*};
\node[mult,anchor=east] (m-lang2) at (1128,673) {languageCommunication};
\node[mult,anchor=east] (m-birthPlace) at (1108,912) {0..1 birthPlace};
\node[mult,anchor=north west,font=\fontsize{5.5}{6}\selectfont] (m-guarantor) at ($(cmHld.north west)+(1,1.5)$) {0..* guarantor};
\node[mult,anchor=east] (m-birthplace2) at (1129,1093) {0..1 birthplace};
\node[mult,anchor=west] (m-asLePartOf) at (1275,1098) {0..* asLocatedEntityPartOf};
\node[mult,anchor=west] (m-location1) at (1252,1129.5) {1..1 location\enspace*};
\node[mult,anchor=west] (m-leHasParts) at (1263.5,1170) {0..* locatedEntityHasParts};
\node[mult,anchor=west] (m-locPlace) at (1252,1204) {1..1 locatedPlace\enspace*};
\node[mult,anchor=east] (m-location2) at (1090,1129) {0..1 location};
\node[mult,anchor=west] (m-locAnEnt) at (874,1219) {0..1 locatedAnEntity};
\node[mult,anchor=west] (m-spatial) at (842.5,1299) {0..* spatialCoordinate};
\node[mult,anchor=west] (m-location3) at (1137,1215) {0..1 location};
\node[mult,anchor=west] (m-sdl2) at (1017.5,1261) {0..* serviceDeliveryLocation};
\node[mult,anchor=west] (m-sdl3) at (1181.5,1293.5) {0..* serviceDeliveryLocation};
\node[mult,anchor=west] (m-assignIdOrg) at (1374,1269) {0..1 assigningIdentifierOrganization};
\node[mult,anchor=west] (m-identLoc) at (1244,1334) {0..* identifiedLocation};
\node[mult,anchor=west] (m-terrAuth) at (1218,1381) {0..* territorialAuthority};
\node[mult,anchor=west] (m-contact) at (1227.5,1403) {0..* contactParty};
\node[mult,anchor=west] (m-serviceDef) at (1259,1498) {0..* serviceDefinition};
\node[mult,anchor=west] (m-provOrg) at (1136,1513) {0..1 serviceProviderOrganization};

% entry points
\notebox{ntPatient}{462,10}{150}{63}{Patient}{Entry point for messages about a living\\\hspace*{6pt}subject in the role of patient.\\[9.45pt]Property-contextConductionStyle: C}
\notebox{ntIdPerson}{960,2}{155}{63}{Identified Person}{Entry point for messages about a person\\\hspace*{6pt}in a Person Registry.\\[9.45pt]Property-contextConductionStyle: C}
\notebox{ntLiving}{1124,797}{146}{74}{Living Subject}{Entry point for messages about living\\\hspace*{6pt}subject, either person or non-person\\\hspace*{6pt}living subjects.\\[9.45pt]Property-contextConductionStyle: C}
\notebox{ntPlace}{1146,939}{144}{91}{Place}{Entry point for messages about a\\\hspace*{6pt}physical location. Allows the place\\\hspace*{6pt}to be defined in a hierarchy of\\\hspace*{6pt}places, e.g., a bed within a room, or\\\hspace*{6pt}a wing containing many rooms.\\[9.45pt]Property-contextConductionStyle: C}
\notebox{ntLocEnt}{516,1183}{142}{74}{Located Entity}{Entry point for messages about the\\\hspace*{6pt}physical presences of an entity at a\\\hspace*{6pt}place (e.g., location of a device).\\[9.45pt]Property-contextConductionStyle: C}
\notebox{ntSDL}{769,1402}{151}{121}{Service Delivery Location}{Entry point for messages about a place\\\hspace*{6pt}in the role of service delivery\\\hspace*{6pt}location (e.g., a designated\\\hspace*{6pt}healthcare facility, a specific\\\hspace*{6pt}accident site, bed, nursing station,\\\hspace*{6pt}floor). Allows for nested definitions\\\hspace*{6pt}of locations (i.e., place within a\\\hspace*{6pt}place within a place)\\[9.45pt]Property-contextConductionStyle: C}
\draw[entry arrow] (ntPatient.south) -- (ntPatient.south |- patRole.north);
\draw[entry arrow] (ntIdPerson.south) -- (ntIdPerson.south |- idEnt.north);
\draw[entry arrow] (ntLiving.west) -- (ntLiving.west -| nonPerson.east);
\draw[entry arrow] (ntPlace.south) -- (ntPlace.south |- place.north);
\draw[entry arrow] (ntLocEnt.east) -- (ntLocEnt.east -| locEnt.west);
\draw[entry arrow] (ntSDL.east) -- (ntSDL.east -| sdl.west);
\end{tikzpicture}
\end{document}
